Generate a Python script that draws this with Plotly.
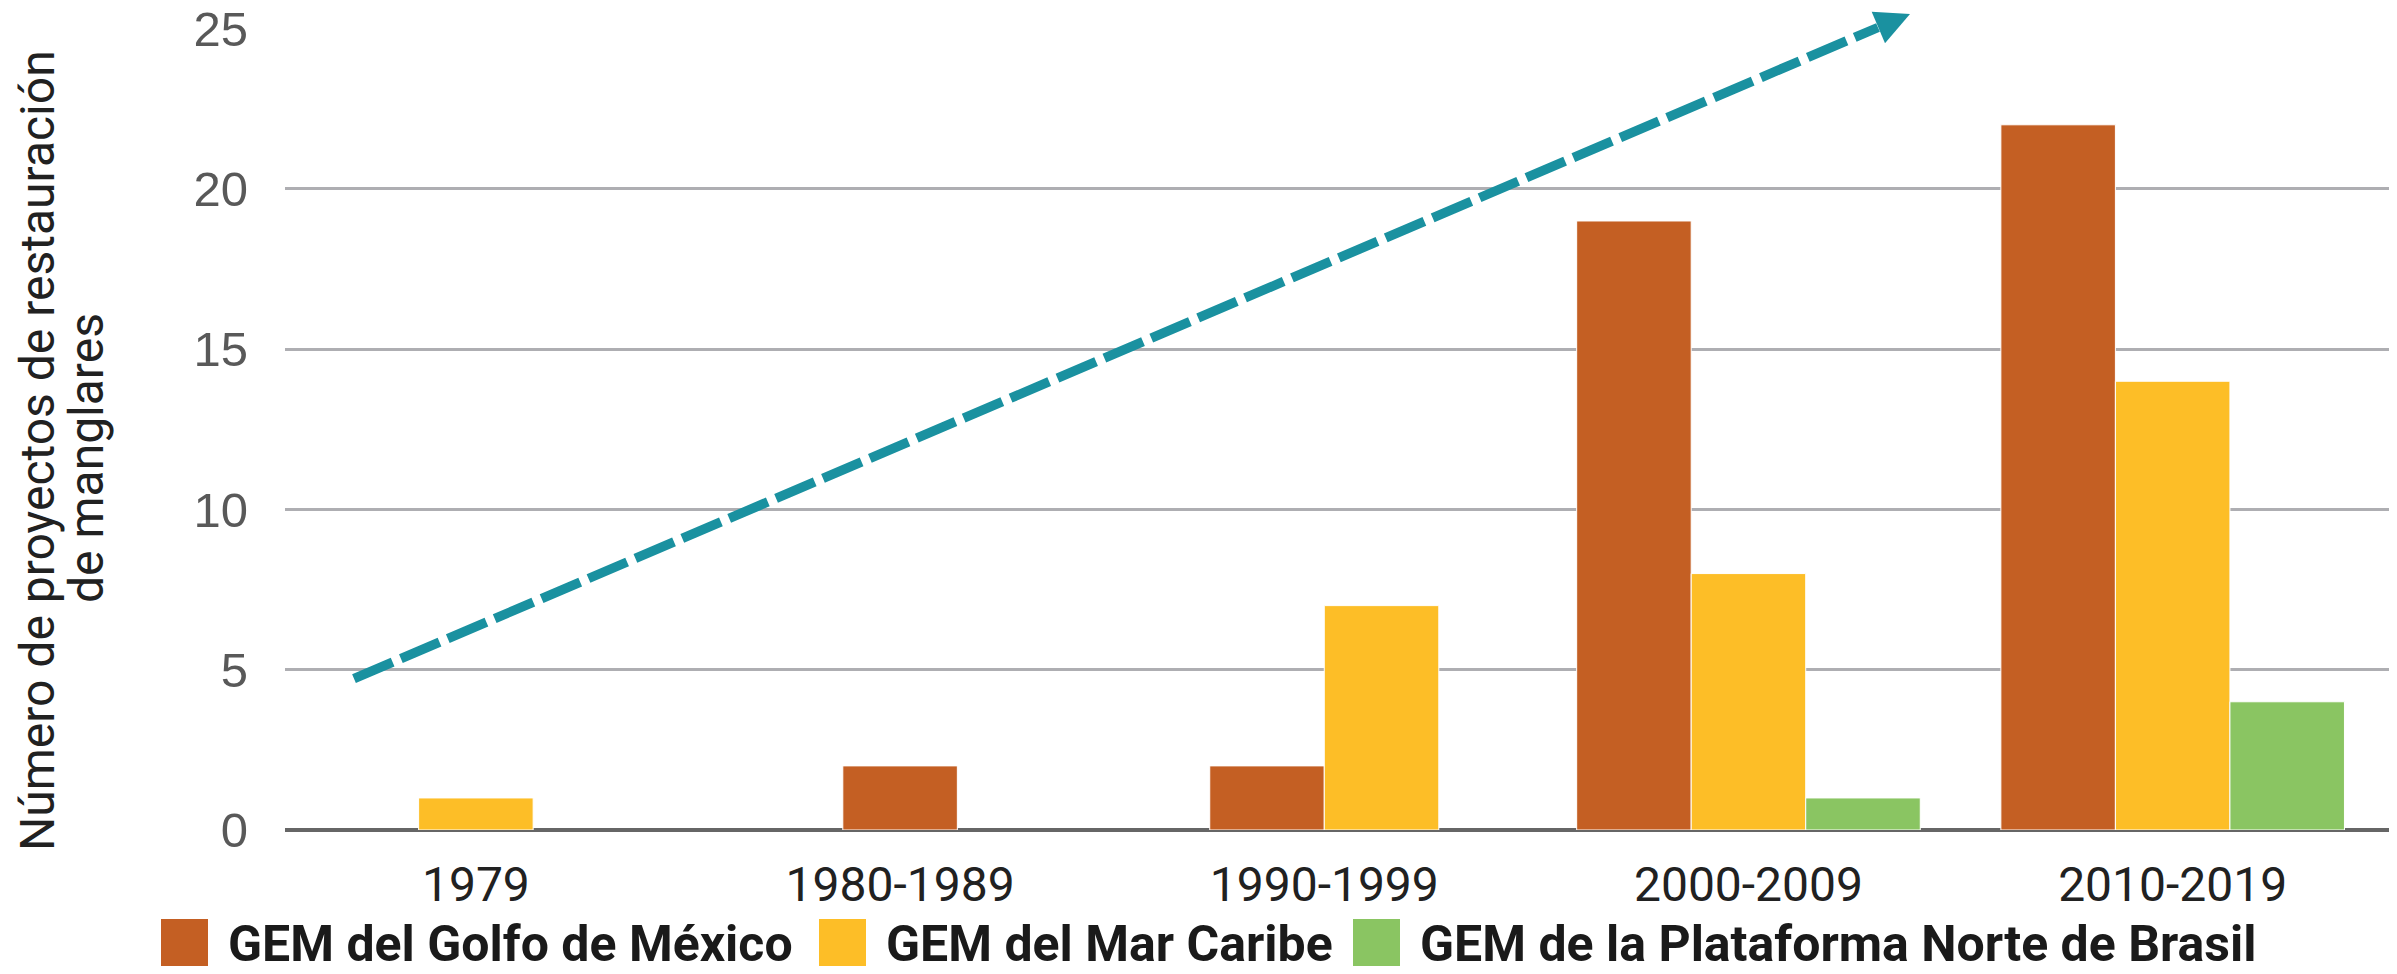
import plotly.graph_objects as go

# ---------------- data ----------------
categories = ["1979", "1980-1989", "1990-1999", "2000-2009", "2010-2019"]
series_names = ["GEM del Golfo de México", "GEM del Mar Caribe", "GEM de la Plataforma Norte de Brasil"]
golfo = [0, 2, 2, 19, 22]
caribe = [1, 0, 7, 8, 14]
brasil = [0, 0, 0, 1, 4]
y_ticks = [0, 5, 10, 15, 20, 25]
y_title_lines = ["Número de proyectos de restauración", "de manglares"]

colors = ["#C45F23", "#FDBE27", "#8AC562"]
arrow_color = "#1A91A0"

series = [golfo, caribe, brasil]

# ---------------- geometry ----------------
W, H = 2397, 974
L, R, T, B = 285, 8, 28, 144
PW, PH = W - L - R, H - T - B


def px(x):
    return (x - L) / PW


def py(y):
    return (H - B - y) / PH


bar_w = 0.27  # in category units

fig = go.Figure()

# bars: non-zero bars of each category are centred on the category
for s_idx, (name, vals) in enumerate(zip(series_names, series)):
    offsets, ys = [], []
    for c_idx in range(len(categories)):
        present = [k for k in range(len(series)) if series[k][c_idx] > 0]
        if vals[c_idx] > 0:
            j = present.index(s_idx)
            offsets.append((-len(present) / 2 + j) * bar_w)
            ys.append(vals[c_idx])
        else:
            offsets.append(0)
            ys.append(None)
    fig.add_trace(go.Bar(
        x=categories, y=ys, name=name,
        offset=offsets, width=[bar_w] * len(categories),
        marker=dict(color=colors[s_idx], line=dict(width=1, color="white")),
        showlegend=False,
    ))

fig.update_layout(
    width=W, height=H,
    margin=dict(l=L, r=R, t=T, b=B, autoexpand=False),
    paper_bgcolor="white", plot_bgcolor="white",
    barmode="overlay",
    xaxis=dict(
        type="category", range=[-0.45, 4.51],
        showgrid=False, showline=False, zeroline=False,
        ticks="", ticklabelstandoff=22,
        tickfont=dict(family="Roboto", size=48, color="#212121"),
    ),
    yaxis=dict(
        range=[0, 25.02], tickvals=y_ticks,
        showgrid=True, gridcolor="#AEAEB2", gridwidth=2.5,
        zeroline=True, zerolinecolor="#666666", zerolinewidth=3.5,
        showline=False, ticks="", ticklabelstandoff=36,
        tickfont=dict(family="Liberation Sans, Arial", size=49, color="#595959"),
    ),
)

# y-axis title (two lines)
fig.add_annotation(text=y_title_lines[0], xref="paper", yref="paper",
                   x=px(38), y=py(451), textangle=-90, showarrow=False,
                   xanchor="center", yanchor="middle",
                   font=dict(family="Roboto", size=48, color="#212121"))
fig.add_annotation(text=y_title_lines[1], xref="paper", yref="paper",
                   x=px(86), y=py(458), textangle=-90, showarrow=False,
                   xanchor="center", yanchor="middle",
                   font=dict(family="Roboto", size=48, color="#212121"))

# manual legend with large square swatches
legend_sq_x = [161, 819, 1353]
sq = 47
for i, name in enumerate(series_names):
    x0 = legend_sq_x[i]
    fig.add_shape(type="rect", xref="paper", yref="paper",
                  x0=px(x0), x1=px(x0 + sq), y0=py(919), y1=py(919 + sq),
                  fillcolor=colors[i], line=dict(width=0))
    fig.add_annotation(text="<b>" + name + "</b>", xref="paper", yref="paper",
                       x=px(x0 + sq + 18), y=py(944), xanchor="left", yanchor="middle",
                       showarrow=False,
                       font=dict(family="Roboto", size=50, color="#1A1A1A"))

# dashed trend arrow
fig.add_shape(type="line", xref="paper", yref="paper",
              x0=px(354), y0=py(678.7), x1=px(1878), y1=py(27.5),
              line=dict(color=arrow_color, width=9.5, dash="42px,9px"))
fig.add_shape(type="path", xref="paper", yref="paper",
              path="M {:.5f},{:.5f} L {:.5f},{:.5f} L {:.5f},{:.5f} Z".format(
                  px(1910), py(14), px(1871.7), py(11.7), px(1885), py(43.3)),
              fillcolor=arrow_color, line=dict(width=0))

fig.write_html("out.html", config={"displayModeBar": False},
               post_script="document.body.style.margin='0px';document.body.style.overflow='hidden';")
